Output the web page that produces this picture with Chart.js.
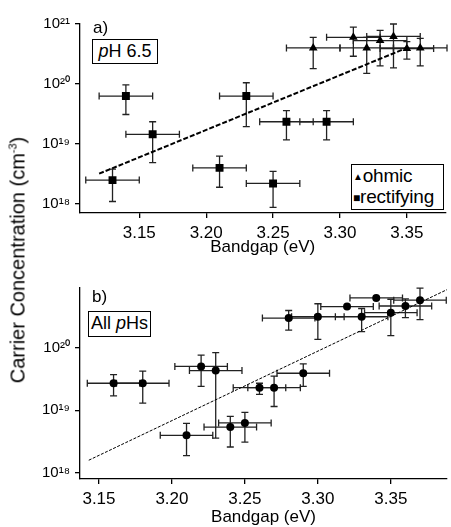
<!DOCTYPE html>
<html>
<head>
<meta charset="utf-8">
<script src="https://cdn.jsdelivr.net/npm/chart.js@4.4.0/dist/chart.umd.min.js"></script>
<style>
body { margin:0; width:451px; height:527px; overflow:hidden; background:#fff; position:relative; font-family:'Liberation Sans', Arial, sans-serif; color:#000; }
canvas { position:absolute; left:0; }
#ca { top:0; }
#cb { top:265px; }
.lbl { position:absolute; font-size:17px; line-height:17px; }
.box { position:absolute; border:1.5px solid #000; background:#fff; font-size:18px; box-sizing:border-box; text-align:center; }
#ytitle { position:absolute; left:18px; top:260px; transform:translate(-50%,-50%) rotate(-90deg); white-space:nowrap; font-size:20px; }
#ytitle sup { font-size:11px; }
</style>
</head>
<body>
<canvas id="ca" width="451" height="265"></canvas>
<canvas id="cb" width="451" height="270"></canvas>

<div class="lbl" style="left:93px;top:19px;">a)</div>
<div class="box" style="left:92px;top:39px;width:66px;height:25px;line-height:22px;"><i>p</i>H 6.5</div>
<div class="box" style="left:351px;top:164px;width:93px;height:46px;text-align:left;line-height:20px;padding:1px 0 0 1px;font-size:19px;letter-spacing:-0.2px;">
  <div><span style="font-size:10px;vertical-align:2px;">&#9650;</span>ohmic</div>
  <div><span style="font-size:12px;vertical-align:1px;">&#9632;</span>rectifying</div>
</div>

<div class="lbl" style="left:92px;top:288px;">b)</div>
<div class="box" style="left:88px;top:311px;width:63px;height:26px;line-height:23px;">All <i>p</i>Hs</div>

<div id="ytitle">Carrier Concentration (cm<sup>-3</sup>)</div>

<script>
// panel a) pH 6.5
var rectX  = [3.13, 3.14, 3.16, 3.21, 3.23, 3.25, 3.26, 3.29];
var rectY  = [2.5e18, 6.3e19, 1.45e19, 4.0e18, 6.3e19, 2.2e18, 2.35e19, 2.35e19];
var rectLo = [1.1e18, 3.1e19, 4.9e18, 1.9e18, 1.95e19, 8.8e17, 1.17e19, 1.17e19];
var rectHi = [3.8e18, 9.7e19, 2.35e19, 6.3e18, 1.05e20, 3.5e18, 3.6e19, 3.6e19];
var rectErrX = [0.02, 0.02, 0.02, 0.02, 0.02, 0.02, 0.02, 0.02];

var ohmX  = [3.28, 3.31, 3.32, 3.33, 3.34, 3.35, 3.36];
var ohmY  = [4.0e20, 6.0e20, 4.0e20, 5.3e20, 6.2e20, 3.9e20, 4.0e20];
var ohmLo = [1.8e20, 2.9e20, 1.5e20, 2.0e20, 1.85e20, 2.6e20, 2.0e20];
var ohmHi = [6.0e20, 8.9e20, 6.0e20, 7.8e20, 1.0e21, 5.1e20, 5.75e20];
var ohmErrX = [0.02, 0.02, 0.02, 0.02, 0.02, 0.02, 0.02];

var fitAX = [3.12, 3.35];
var fitAY = [3.2e18, 4.0e20];

// panel b) all pHs
var allX  = [3.16, 3.18, 3.21, 3.22, 3.23, 3.24, 3.25, 3.26, 3.27, 3.29, 3.28, 3.30, 3.32, 3.33, 3.34, 3.35, 3.36, 3.37];
var allY  = [2.7e19, 2.7e19, 4.0e18, 5.0e19, 4.3e19, 5.4e18, 6.3e18, 2.3e19, 2.3e19, 3.9e19, 2.95e20, 3.1e20, 4.5e20, 3.1e20, 6.2e20, 3.6e20, 4.6e20, 5.7e20];
var allLo = [1.7e19, 1.3e19, 1.9e18, 2.4e19, 3.6e18, 2.6e18, 3.1e18, 1.8e19, 1.15e19, 2.4e19, 1.9e20, 1.35e20, 4.5e20, 1.8e20, 6.2e20, 1.55e20, 3.0e20, 2.8e20];
var allHi = [3.7e19, 4.2e19, 6.2e18, 7.6e19, 8.3e19, 8.0e18, 9.3e18, 2.7e19, 3.5e19, 5.5e19, 3.9e20, 5.0e20, 4.5e20, 4.2e20, 6.2e20, 5.9e20, 6.0e20, 8.9e20];
var allErrX = [0.018, 0.018, 0.018, 0.018, 0.018, 0.018, 0.018, 0.018, 0.018, 0.018, 0.018, 0.018, 0.018, 0.018, 0.018, 0.018, 0.018, 0.018];

var fitBX = [3.143, 3.389];
var fitBY = [1.6e18, 8.5e20];

var xTicks = [3.15, 3.20, 3.25, 3.30, 3.35];
var decadesA = [1e18, 1e19, 1e20, 1e21];
var decadesB = [1e18, 1e19, 1e20];

var FONT = "'Liberation Sans', Arial, sans-serif";
var SUP = {'0':'\u2070','1':'\u00b9','2':'\u00b2','3':'\u00b3','4':'\u2074','5':'\u2075','6':'\u2076','7':'\u2077','8':'\u2078','9':'\u2079'};

function toPoints(xs, ys) {
    return xs.map(function(x, i) { return {x: x, y: ys[i]}; });
}

var errorBars = {
    id: 'errorBars',
    beforeDatasetsDraw: function(chart) {
        var ctx = chart.ctx, sx = chart.scales.x, sy = chart.scales.y;
        ctx.save();
        ctx.strokeStyle = '#222';
        ctx.lineWidth = 1.3;
        chart.data.datasets.forEach(function(ds) {
            if (!ds.errX) return;
            ds.data.forEach(function(p, i) {
                var px = sx.getPixelForValue(p.x), py = sy.getPixelForValue(p.y);
                var x0 = sx.getPixelForValue(p.x - ds.errX[i]), x1 = sx.getPixelForValue(p.x + ds.errX[i]);
                var y0 = sy.getPixelForValue(ds.errLo[i]), y1 = sy.getPixelForValue(ds.errHi[i]);
                ctx.beginPath();
                ctx.moveTo(x0, py); ctx.lineTo(x1, py);
                ctx.moveTo(x0, py - 3.5); ctx.lineTo(x0, py + 3.5);
                ctx.moveTo(x1, py - 3.5); ctx.lineTo(x1, py + 3.5);
                if (Math.abs(y0 - y1) > 1) {
                    ctx.moveTo(px, y0); ctx.lineTo(px, y1);
                    ctx.moveTo(px - 3.5, y0); ctx.lineTo(px + 3.5, y0);
                    ctx.moveTo(px - 3.5, y1); ctx.lineTo(px + 3.5, y1);
                }
                ctx.stroke();
            });
        });
        ctx.restore();
    }
};

function makeChart(id, datasets, xmin, xmax, ymin, ymax, decades, topPad, axisH) {
    return new Chart(document.getElementById(id), {
        type: 'scatter',
        data: { datasets: datasets },
        plugins: [errorBars],
        options: {
            responsive: false,
            animation: false,
            devicePixelRatio: 1,
            layout: { padding: { top: topPad, left: 0, right: 1, bottom: 0 } },
            plugins: { legend: { display: false }, tooltip: { enabled: false } },
            scales: {
                x: {
                    type: 'linear', min: xmin, max: xmax,
                    border: { display: true, color: '#000', width: 1.3 },
                    grid: { drawOnChartArea: false, color: '#000', tickLength: 5, lineWidth: 1.3 },
                    afterBuildTicks: function(s) { s.ticks = xTicks.map(function(v) { return {value: v}; }); },
                    afterFit: function(s) { s.height = axisH; s.paddingLeft = 0; s.paddingRight = 0; },
                    ticks: {
                        color: '#000', padding: 5, maxRotation: 0,
                        font: { family: FONT, size: 17 },
                        callback: function(v) { return v.toFixed(2); }
                    },
                    title: {
                        display: true, text: 'Bandgap (eV)', color: '#000',
                        font: { family: FONT, size: 17 },
                        padding: { top: 0, bottom: 7 }
                    }
                },
                y: {
                    type: 'logarithmic', min: ymin, max: ymax,
                    border: { display: true, color: '#000', width: 1.3 },
                    grid: { drawOnChartArea: false, color: '#000', tickLength: 5, lineWidth: 1.3 },
                    afterBuildTicks: function(s) { s.ticks = decades.map(function(v) { return {value: v}; }); },
                    afterFit: function(s) { s.width = 80; },
                    ticks: {
                        color: '#000', padding: 5,
                        font: { family: FONT, size: 15 },
                        callback: function(v) {
                            var e = String(Math.round(Math.log10(v)));
                            return '10' + e.split('').map(function(c) { return SUP[c]; }).join('');
                        }
                    }
                }
            }
        }
    });
}

makeChart('ca', [
    { data: toPoints(ohmX, ohmY), errX: ohmErrX, errLo: ohmLo, errHi: ohmHi,
      pointStyle: 'triangle', pointRadius: 5, backgroundColor: '#000', borderColor: '#000', borderWidth: 0 },
    { data: toPoints(rectX, rectY), errX: rectErrX, errLo: rectLo, errHi: rectHi,
      pointStyle: 'rect', pointRadius: 5.6, backgroundColor: '#000', borderColor: '#000', borderWidth: 0 },
    { data: toPoints(fitAX, fitAY), showLine: true, pointRadius: 0,
      borderColor: '#000', borderWidth: 2, borderDash: [5, 2] }
], 3.1057, 3.3788, Math.pow(10, 17.85), 1e21, decadesA, 24, 52);

makeChart('cb', [
    { data: toPoints(allX, allY), errX: allErrX, errLo: allLo, errHi: allHi,
      pointStyle: 'circle', pointRadius: 4, backgroundColor: '#000', borderColor: '#000', borderWidth: 0 },
    { data: toPoints(fitBX, fitBY), showLine: true, pointRadius: 0,
      borderColor: '#000', borderWidth: 1, borderDash: [3, 1.5] }
], 3.137, 3.3885, Math.pow(10, 17.905), Math.pow(10, 20.95), decadesB, 23, 56);
</script>
</body>
</html>
